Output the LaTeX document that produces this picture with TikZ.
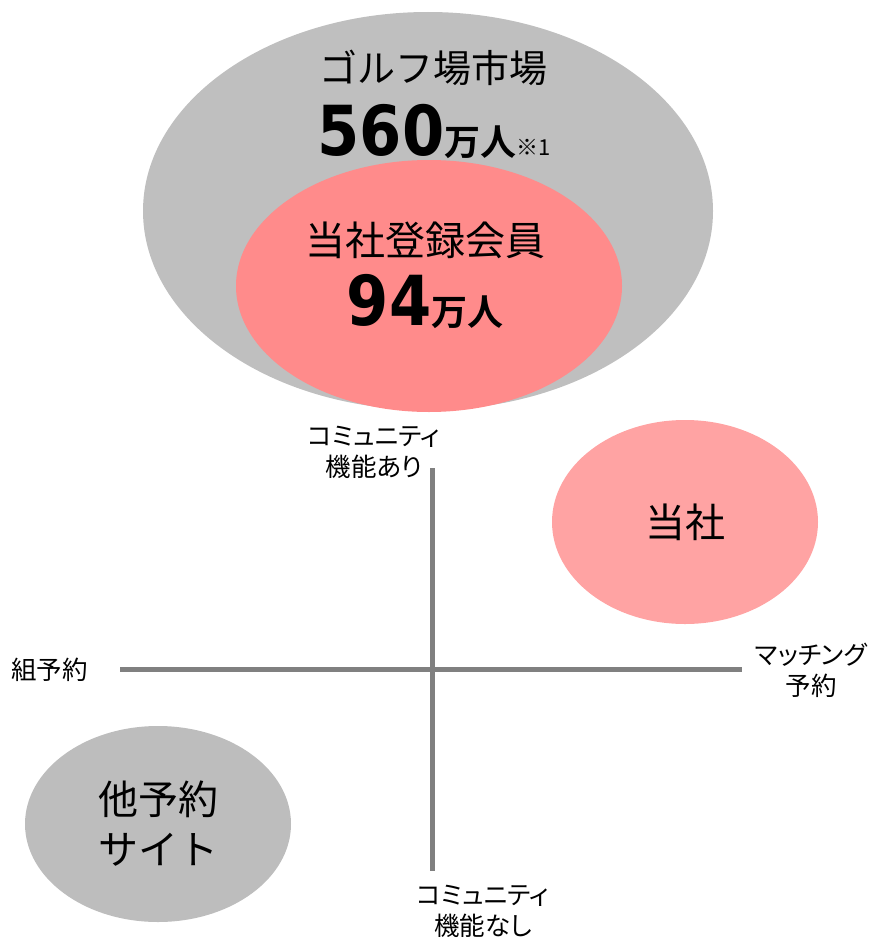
\documentclass[tikz,border=0pt]{standalone}
\usepackage{fontspec}
\newfontfamily\jp{Noto Sans CJK JP}
\newfontfamily\jpl[RawFeature=+palt]{Noto Sans CJK JP}
\newfontfamily\jpb{Noto Sans CJK JP Bold}
\newfontfamily\num{DejaVu Sans}
\definecolor{biggray}{HTML}{BFBFBF}
\definecolor{innerpink}{HTML}{FF8B8B}
\definecolor{lightpink}{HTML}{FFA3A3}
\definecolor{sitegray}{HTML}{BDBDBD}
\definecolor{axisgray}{HTML}{808080}
\tikzset{
  blob/.style={ellipse, inner sep=0pt},
  lbl/.style={align=center, font=\jpl\fontsize{25.5}{31}\selectfont, inner sep=0pt},
  axisline/.style={draw=axisgray, line width=5pt}
}
\newcommand{\bignum}[1]{\scalebox{0.88}[1]{\num\bfseries\fontsize{69}{70}\selectfont #1}}
\usetikzlibrary{shapes.geometric}
\begin{document}
\begin{tikzpicture}[x=1pt,y=-1pt]
\useasboundingbox (0,0) rectangle (875,942);
% big market ellipse
\node[blob, fill=biggray, minimum width=570pt, minimum height=398pt] (market) at (428,211) {};
\node[blob, fill=innerpink, minimum width=386pt, minimum height=252pt] (members) at (429,286) {};
\node[inner sep=0pt] (t1) at (433,68) {\jp\fontsize{38}{40}\selectfont ゴルフ場市場};
\node[inner sep=0pt, anchor=base] (t2) at (434,155) {\bignum{560}\jpb\fontsize{36}{38}\selectfont 万人\mdseries\jp\fontsize{22}{24}\selectfont ※1};
\node[inner sep=0pt] (t3) at (425,240) {\jp\fontsize{40}{42}\selectfont 当社登録会員};
\node[inner sep=0pt, anchor=base] (t4) at (425,325) {\bignum{94}\jpb\fontsize{36}{38}\selectfont 万人};
% axes
\coordinate (vtop) at (432,468);
\coordinate (vbot) at (432,871);
\coordinate (hl) at (120,669);
\coordinate (hr) at (742,669);
\draw[axisline] (vtop) -- (vbot);
\draw[axisline] (hl) -- (hr);
\node[lbl] (ltop) at (374,452) {コミュニティ\\機能あり};
\node[lbl] (lbot) at (483,911) {コミュニティ\\機能なし};
\node[lbl, anchor=west] (lleft) at (11,670) {組予約};
\node[lbl] (lright) at (811,670) {マッチング\\予約};
% quadrant ellipses
\node[blob, fill=lightpink, minimum width=266pt, minimum height=204pt, font=\jp\fontsize{40}{42}\selectfont] (us) at (685,522) {当社};
\node[blob, fill=sitegray, minimum width=266pt, minimum height=196pt, align=center, font=\jp\fontsize{40}{50}\selectfont] (other) at (158,824) {他予約\\サイト};
\end{tikzpicture}
\end{document}
